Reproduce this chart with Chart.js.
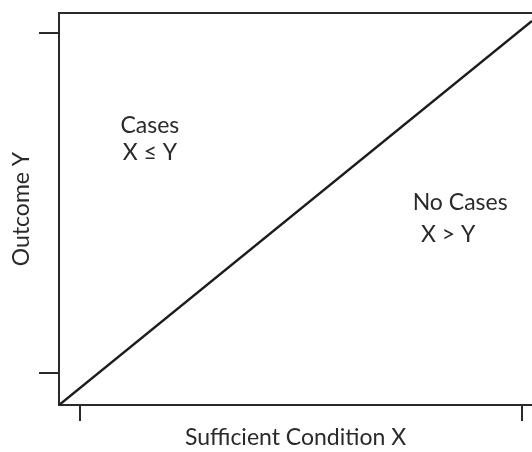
<!DOCTYPE html>
<html lang="en">
<head>
    <meta charset="UTF-8">
    <title>Sufficient Condition</title>
    <style>
        html, body { margin: 0; padding: 0; background: #fff; }
        #chart { display: block; }
    </style>
</head>
<body>
    <canvas id="chart" width="532" height="452"></canvas>

    <script src="https://cdn.jsdelivr.net/npm/chart.js@4/dist/chart.umd.min.js"></script>
    <script>
        // axis ticks (no labels shown, just the marks)
        var xTicks = [0, 1];
        var yTicks = [0, 1];

        // axis ranges
        var xMin = -0.0475, xMax = 1.0226;
        var yMin = -0.094, yMax = 1.0588;

        // the diagonal X = Y boundary
        var lineX = [-0.0475, 1.0226];
        var lineY = [-0.094, 1.0353];

        // region notes
        var noteTexts = ["Cases", "X \u2264 Y", "No Cases", "X > Y"];
        var noteX = [0.158, 0.158, 0.860, 0.833];
        var noteY = [0.729, 0.647, 0.500, 0.406];

        var ink = "#2a2a2a";
        var fontFamily = "Lato, 'Open Sans', sans-serif";

        var linePoints = lineX.map(function (x, i) {
            return { x: x, y: lineY[i] };
        });

        var notesPlugin = {
            id: "notes",
            afterDatasetsDraw: function (chart) {
                var ctx = chart.ctx;
                var xs = chart.scales.x, ys = chart.scales.y;
                ctx.save();
                ctx.fillStyle = ink;
                ctx.font = "23px " + fontFamily;
                ctx.textAlign = "center";
                ctx.textBaseline = "middle";
                for (var i = 0; i < noteTexts.length; i++) {
                    ctx.fillText(noteTexts[i], xs.getPixelForValue(noteX[i]), ys.getPixelForValue(noteY[i]));
                }
                ctx.restore();
            }
        };

        function setTicks(values) {
            return function (scale) {
                scale.ticks = values.map(function (v) { return { value: v }; });
            };
        }

        new Chart(document.getElementById("chart"), {
            type: "line",
            data: {
                datasets: [{
                    data: linePoints,
                    borderColor: "#1c1c1c",
                    borderWidth: 2.5,
                    pointRadius: 0,
                    fill: false
                }]
            },
            options: {
                responsive: false,
                animation: false,
                devicePixelRatio: 1,
                layout: { padding: 0 },
                plugins: {
                    legend: { display: false },
                    tooltip: { enabled: false }
                },
                scales: {
                    x: {
                        type: "linear",
                        position: "bottom",
                        min: xMin,
                        max: xMax,
                        afterBuildTicks: setTicks(xTicks),
                        afterFit: function (scale) { scale.height = 47; },
                        ticks: { display: false },
                        grid: { drawOnChartArea: false, drawTicks: true, tickLength: 16, color: ink, lineWidth: 2 },
                        border: { display: true, color: ink, width: 2 },
                        title: {
                            display: true,
                            text: "Sufficient Condition X",
                            color: ink,
                            font: { family: fontFamily, size: 23 },
                            padding: { top: 0, bottom: 1 }
                        }
                    },
                    xTop: {
                        type: "linear",
                        position: "top",
                        min: xMin,
                        max: xMax,
                        afterFit: function (scale) { scale.height = 13; },
                        ticks: { display: false },
                        grid: { display: false, drawTicks: false },
                        border: { display: true, color: ink, width: 2 }
                    },
                    y: {
                        type: "linear",
                        position: "left",
                        min: yMin,
                        max: yMax,
                        afterBuildTicks: setTicks(yTicks),
                        afterFit: function (scale) { scale.width = 59; },
                        ticks: { display: false },
                        grid: { drawOnChartArea: false, drawTicks: true, tickLength: 20, color: ink, lineWidth: 2 },
                        border: { display: true, color: ink, width: 2 },
                        title: {
                            display: true,
                            text: "Outcome Y",
                            color: ink,
                            font: { family: fontFamily, size: 23 },
                            padding: { top: 8, bottom: 0 }
                        }
                    }
                }
            },
            plugins: [notesPlugin]
        });
    </script>
</body>
</html>
